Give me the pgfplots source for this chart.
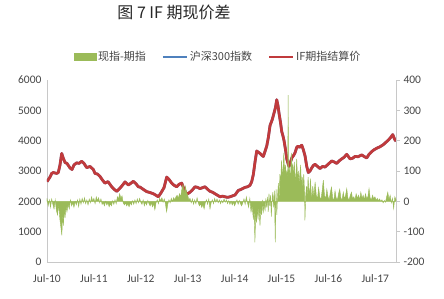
\documentclass[border=0pt]{standalone}
\usepackage{pgfplots}
\usepackage{pgfplotstable}
\pgfplotsset{compat=1.18}
\usepackage{fontspec}
\setmainfont{Carlito}
\newfontfamily\cjk{Noto Sans CJK SC}
\definecolor{cred}{RGB}{192,58,60}
\definecolor{cblue}{RGB}{79,129,189}
\definecolor{cgreen}{RGB}{155,187,89}
\definecolor{caxis}{RGB}{200,200,200}
\definecolor{ctext}{RGB}{70,70,70}

\pgfplotstableread{
m v
0 2650
0.77 2800
1.20 2920
1.61 2950
2.48 2920
2.89 2950
3.33 3200
3.76 3580
4.09 3450
4.61 3280
5.12 3250
5.89 3100
6.40 3050
6.91 3200
7.60 3270
8.19 3250
8.88 3320
9.47 3250
10.16 3110
11.00 3150
11.85 3050
12.28 2920
12.92 2900
13.56 2820
14.20 2700
14.84 2600
15.61 2650
16.56 2480
17.15 2400
17.84 2330
18.42 2400
19.12 2500
19.96 2640
20.81 2540
21.50 2600
22.08 2660
22.78 2580
23.36 2480
23.80 2470
24.57 2400
25.51 2320
26.36 2290
27.20 2250
27.89 2200
28.48 2150
29.17 2280
29.94 2450
30.63 2800
31.22 2720
31.91 2600
32.50 2530
33.19 2480
33.78 2560
34.47 2600
35.06 2400
35.75 2230
36.59 2300
37.23 2380
37.87 2480
38.51 2460
39.15 2420
39.79 2450
40.43 2480
41.07 2400
41.71 2330
42.35 2300
42.99 2250
43.63 2200
44.27 2150
44.91 2170
45.55 2150
46.19 2130
46.83 2150
47.47 2180
48.11 2210
48.95 2360
49.39 2380
50.03 2420
50.67 2460
51.31 2480
51.95 2530
52.38 2650
52.79 2880
53.23 3300
53.66 3660
54.07 3620
54.51 3580
54.94 3520
55.35 3480
55.79 3650
56.22 3820
56.63 4100
57.07 4500
57.65 4700
58.17 4950
58.47 5100
58.78 5350
59.11 5150
59.37 4900
59.75 4600
60.06 4300
60.39 4150
60.65 4000
61.03 3700
61.34 3400
61.67 3250
61.93 3150
62.31 3300
62.70 3450
63.03 3500
63.46 3600
63.90 3780
64.23 3820
64.62 3780
65.18 3850
65.59 3700
66.02 3500
66.46 3150
66.87 2950
67.30 3000
67.73 3100
68.14 3180
68.58 3220
69.22 3150
69.86 3080
70.50 3150
71.14 3130
71.91 3220
72.85 3330
73.44 3300
74.13 3250
74.72 3330
75.41 3400
76.00 3450
76.69 3550
77.54 3400
78.18 3420
78.82 3480
79.59 3470
80.53 3530
81.12 3480
81.81 3430
82.40 3550
83.09 3640
83.68 3700
84.37 3750
85.21 3800
86.06 3870
86.75 3950
87.34 4020
87.90 4100
88.47 4200
88.93 4050
89.31 3980
}\indextable

\pgfplotstableread{
m b
0 10
0.3 -15
0.6 5
0.9 -20
1.2 8
1.5 -10
1.8 -25
2.1 5
2.4 -30
2.7 -45
3.0 -10
3.3 -60
3.6 -90
3.8 -112
4.0 -40
4.2 -80
4.4 -20
4.6 -55
4.9 -15
5.1 -35
5.4 -10
5.7 -25
6.0 5
6.3 -15
6.6 -5
6.9 -20
7.2 0
7.5 -12
7.8 5
8.1 -18
8.4 8
8.7 -10
9.0 10
9.3 -5
9.6 12
9.9 -8
10.2 5
10.5 -12
10.8 8
11.1 -5
11.4 15
11.7 0
12.0 10
12.3 -8
12.6 15
12.9 2
13.2 12
13.5 -5
13.8 8
14.1 -10
14.4 -5
14.7 -15
15.0 0
15.3 -12
15.6 -5
15.9 -18
16.2 -8
16.5 -15
16.8 2
17.1 -10
17.4 5
17.7 -8
18.0 15
18.3 8
18.6 25
18.9 10
19.2 18
19.5 -5
19.8 -12
20.1 -5
20.4 -15
20.7 -8
21.0 -18
21.3 -5
21.6 -12
21.9 2
22.2 -10
22.5 5
22.8 -8
23.1 8
23.4 -5
23.7 10
24.0 -3
24.3 -10
24.6 5
24.9 -15
25.2 -3
25.5 -12
25.8 3
26.1 -8
26.4 -15
26.7 -5
27.0 -18
27.3 -8
27.6 -28
27.9 -5
28.2 5
28.5 -8
28.8 10
29.1 2
29.4 12
29.7 -3
30.0 8
30.3 -8
30.6 -35
30.9 -10
31.2 5
31.5 -5
31.8 10
32.1 0
32.4 12
32.7 5
33.0 15
33.3 20
33.6 10
33.9 25
34.2 15
34.5 40
34.8 55
35.1 25
35.4 50
35.7 30
36.0 20
36.3 5
36.6 10
36.9 -5
37.2 8
37.5 -10
37.8 5
38.1 -8
38.4 12
38.7 -5
39.0 -15
39.3 -8
39.6 -20
39.9 -10
40.2 -25
40.5 -5
40.8 5
41.1 -10
41.4 8
41.7 -25
42.0 -5
42.3 5
42.6 -8
42.9 10
43.2 -3
43.5 8
43.8 -5
44.1 5
44.4 -8
44.7 3
45.0 -5
45.3 8
45.6 -3
45.9 5
46.2 -8
46.5 2
46.8 -10
47.1 0
47.4 -12
47.7 -3
48.0 -15
48.3 -5
48.6 5
48.9 -10
49.2 3
49.5 -8
49.8 -15
50.1 -5
50.4 8
50.7 -10
51.0 15
51.3 -5
51.6 -20
51.9 10
52.2 -35
52.5 -15
52.8 -60
53.0 -25
53.2 -135
53.4 -40
53.6 -70
53.8 -20
54.0 -60
54.2 -15
54.5 -80
54.7 -20
54.9 -45
55.1 5
55.3 -40
55.5 -10
55.8 -30
56.0 10
56.2 -20
56.4 15
56.6 -35
56.8 25
57.0 -15
57.2 20
57.4 -50
57.6 10
57.8 30
58.0 -20
58.2 35
58.4 -135
58.6 40
58.8 -45
59.0 20
59.2 60
59.4 10
59.6 90
59.8 60
60.0 135
60.2 80
60.4 110
60.6 160
60.8 90
61.0 120
61.2 85
61.4 100
61.6 75
61.7 350
61.8 90
62.0 110
62.3 70
62.5 160
62.7 100
62.9 125
63.1 80
63.3 130
63.5 60
63.7 90
63.9 140
64.1 70
64.3 100
64.5 60
64.7 90
64.9 120
65.1 50
65.3 80
65.5 40
65.7 90
65.9 30
66.0 -63
66.2 20
66.4 50
66.6 10
66.8 80
67.0 40
67.2 20
67.4 75
67.6 30
67.8 10
68.0 50
68.3 15
68.6 64
68.9 20
69.2 8
69.5 45
69.8 15
70.1 5
70.4 35
70.7 70
71.0 20
71.3 8
71.6 40
71.9 15
72.2 5
72.5 30
72.8 47
73.1 10
73.4 5
73.7 35
74.0 10
74.3 5
74.6 25
74.9 40
75.2 10
75.5 5
75.8 30
76.1 8
76.4 20
76.7 42
77.0 10
77.3 5
77.6 20
77.9 30
78.2 8
78.5 15
78.8 5
79.1 25
79.4 10
79.7 20
80.0 5
80.3 30
80.6 10
80.9 20
81.2 5
81.5 25
81.8 8
82.1 15
82.4 42
82.7 10
83.0 5
83.3 20
83.6 8
83.9 15
84.2 3
84.5 10
84.8 2
85.1 8
85.4 0
85.7 5
86.0 -5
86.3 3
86.6 -3
86.9 15
87.2 30
87.5 5
87.8 20
88.1 -5
88.4 10
88.7 -24
89.0 15
89.3 5
}\basistable

\begin{document}
\begin{tikzpicture}
\path[use as bounding box] (-47pt,-37pt) rectangle (397pt,262pt);
\begin{axis}[
  scale only axis, width=349pt, height=182pt,
  xmin=0, xmax=89.3, ymin=0, ymax=6000,
  axis x line*=bottom, axis y line*=left,
  axis line style={-, draw=caxis, line width=0.9pt},
  xtick={0,12,24,36,48,60,72,84},
  xticklabels={Jul-10,Jul-11,Jul-12,Jul-13,Jul-14,Jul-15,Jul-16,Jul-17},
  ytick={0,1000,2000,3000,4000,5000,6000},
  major tick length=0pt,
  tick label style={font=\fontsize{11.5}{13}\selectfont, text=ctext},
  xticklabel style={yshift=-9pt},
  /pgf/number format/assume math mode=true,
  scaled y ticks=false,
  yticklabel style={/pgf/number format/1000 sep={}, xshift=-2pt},
]
\addplot[cblue, line width=2.6pt, line join=round] table[x=m, y=v] {\indextable};
\addplot[cred, line width=2.8pt, line join=round] table[x=m, y=v] {\indextable};
\end{axis}
\begin{axis}[
  scale only axis, width=349pt, height=182pt,
  xmin=0, xmax=89.3, ymin=-200, ymax=400,
  axis x line=none, axis y line*=right,
  axis line style={-, draw=caxis, line width=0.9pt},
  ytick={-200,-100,0,100,200,300,400},
  tick align=outside, major tick length=4pt,
  ytick style={draw=caxis, line width=0.8pt},
  tick label style={font=\fontsize{11.5}{13}\selectfont, text=ctext},
  /pgf/number format/assume math mode=true,
  legend columns=3,
  legend style={at={(0.49,1.126)}, anchor=center, draw=none, fill=none,
    font=\cjk\fontsize{11}{13}\selectfont, text=ctext,
    /tikz/every even column/.append style={column sep=14pt},
    inner sep=0pt},
]
\addplot[draw=cgreen, fill=cgreen, line width=0.4pt,
  legend image code/.code={\fill[cgreen] (0pt,-3.5pt) rectangle (22pt,3.5pt);}]
  table[x=m, y=b] {\basistable} \closedcycle;
\addlegendentry{现指-期指}
\addlegendimage{legend image code/.code={\draw[cblue, line width=2pt] (0pt,0pt) -- (24pt,0pt);}}
\addlegendentry{沪深300指数}
\addlegendimage{legend image code/.code={\draw[cred, line width=2pt] (0pt,0pt) -- (24pt,0pt);}}
\addlegendentry{IF期指结算价}
\end{axis}
\node[font=\cjk\fontsize{16}{18}\selectfont, text=black!85] at (127pt,250pt) {图 7 IF 期现价差};
\end{tikzpicture}
\end{document}
